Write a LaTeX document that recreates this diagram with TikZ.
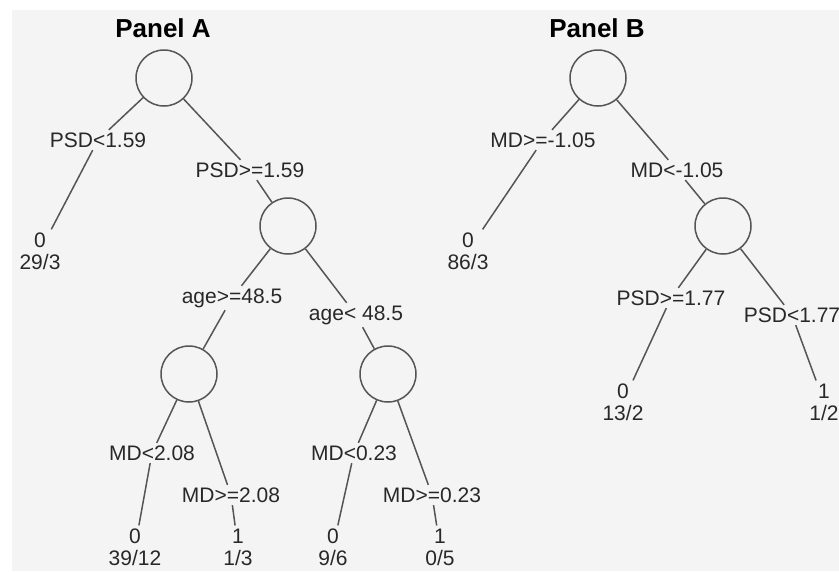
\documentclass[tikz,border=0pt]{standalone}
\usepackage{fontspec}
\setmainfont{Liberation Sans}
\definecolor{bgc}{RGB}{244,244,244}
\definecolor{linec}{RGB}{85,85,85}
\definecolor{txtc}{RGB}{40,40,40}
\begin{document}
\begin{tikzpicture}[x=1pt,y=-1pt,
  split/.style={circle,draw=linec,line width=1.5pt,minimum size=56pt,inner sep=0pt},
  lbl/.style={text=txtc,font=\fontsize{21}{22}\selectfont,inner sep=2.5pt},
  leaf/.style={text=txtc,font=\fontsize{21}{22}\selectfont,align=center,inner sep=3pt},
  ttl/.style={text=black,font=\fontsize{26}{28}\selectfont\bfseries,inner sep=0pt},
  edge/.style={draw=linec,line width=1.5pt}]
\useasboundingbox (0,0) rectangle (839,571);
\fill[white] (0,0) rectangle (839,571);
\fill[bgc] (12,10) rectangle (839,571);
% Panel A
\node[ttl] (tA) at (163,28) {Panel A};
\node[split] (rA) at (164,78) {};
\node[lbl] (lA1) at (98,140) {PSD<1.59};
\node[leaf] (fA1) at (40,251) {0\\29/3};
\node[lbl] (lA2) at (250,170) {PSD>=1.59};
\node[split] (cA2) at (288,226) {};
\node[lbl] (lA3) at (232,298) {age>=48.5};
\node[lbl] (lA4) at (356,315) {age< 48.5};
\node[split] (cA3) at (189,374) {};
\node[split] (cA4) at (388,374) {};
\node[lbl] (lA5) at (152,453) {MD<2.08};
\node[lbl] (lA6) at (231,495) {MD>=2.08};
\node[lbl] (lA7) at (354,453) {MD<0.23};
\node[lbl] (lA8) at (432,495) {MD>=0.23};
\node[leaf] (fA2) at (135,547) {0\\39/12};
\node[leaf] (fA3) at (238,547) {1\\1/3};
\node[leaf] (fA4) at (333,547) {0\\9/6};
\node[leaf] (fA5) at (440,547) {1\\0/5};
\draw[edge] (rA) -- (lA1) (lA1) -- (fA1);
\draw[edge] (rA) -- (lA2) (lA2) -- (cA2);
\draw[edge] (cA2) -- (lA3) (lA3) -- (cA3);
\draw[edge] (cA2) -- (lA4) (lA4) -- (cA4);
\draw[edge] (cA3) -- (lA5) (lA5) -- (fA2);
\draw[edge] (cA3) -- (lA6) (lA6) -- (fA3);
\draw[edge] (cA4) -- (lA7) (lA7) -- (fA4);
\draw[edge] (cA4) -- (lA8) (lA8) -- (fA5);
% Panel B
\node[ttl] (tB) at (597,28) {Panel B};
\node[split] (rB) at (598,78) {};
\node[lbl] (lB1) at (543,140) {MD>=-1.05};
\node[leaf] (fB1) at (468,251) {0\\86/3};
\node[lbl] (lB2) at (677,170) {MD<-1.05};
\node[split] (cB2) at (723,226) {};
\node[lbl] (lB3) at (671,298) {PSD>=1.77};
\node[lbl] (lB4) at (792,315) {PSD<1.77};
\node[leaf] (fB2) at (623,402) {0\\13/2};
\node[leaf] (fB3) at (824,402) {1\\1/2};
\draw[edge] (rB) -- (lB1) (lB1) -- (fB1);
\draw[edge] (rB) -- (lB2) (lB2) -- (cB2);
\draw[edge] (cB2) -- (lB3) (lB3) -- (fB2);
\draw[edge] (cB2) -- (lB4) (lB4) -- (fB3);
\end{tikzpicture}
\end{document}
